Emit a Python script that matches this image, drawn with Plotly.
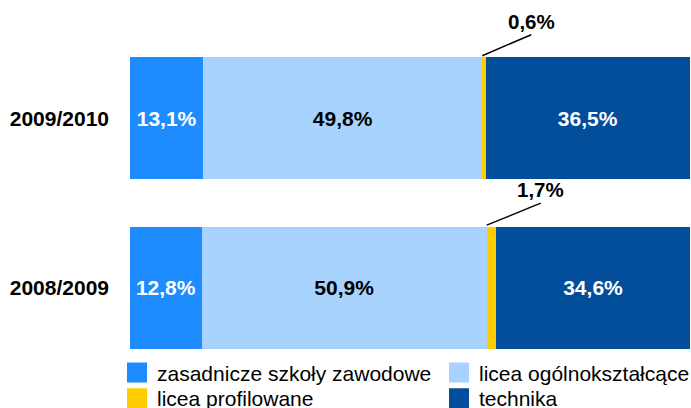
import plotly.graph_objects as go

years = ["2008/2009", "2009/2010"]
series_names = ["zasadnicze szkoły zawodowe", "licea ogólnokształcące",
                "licea profilowane", "technika"]
zasadnicze = [12.8, 13.1]
ogolnoksztalcace = [50.9, 49.8]
profilowane = [1.7, 0.6]
technika = [34.6, 36.5]

colors = ["#1E8CFF", "#A8D3FF", "#FFCC00", "#034E9B"]
text_colors = ["white", "black", "black", "white"]
values = [zasadnicze, ogolnoksztalcace, profilowane, technika]
legend_ids = ["legend", "legend2", "legend3", "legend4"]

FONT = "Liberation Sans, Arial, sans-serif"

fig = go.Figure()
for name, vals, col, tcol in zip(series_names, values, colors, text_colors):
    show_text = name != "licea profilowane"
    fig.add_trace(go.Bar(
        y=years, x=vals, name=name, orientation="h",
        marker=dict(color=col, line=dict(width=0)),
        texttemplate="%{x:.1f}%" if show_text else None,
        textposition="inside" if show_text else "none",
        insidetextanchor="middle",
        constraintext="none",
        insidetextfont=dict(family=FONT, size=21, color=tcol, weight="bold"),
        hoverinfo="skip",
        showlegend=False,
    ))

# legend entries (square swatches like the original)
for name, col, lid in zip(series_names, colors, legend_ids):
    fig.add_trace(go.Scatter(
        x=[None], y=[None], mode="markers", name=name,
        marker=dict(symbol="square", size=16, color=col,
                    line=dict(width=4, color=col)),
        legend=lid, hoverinfo="skip",
    ))

# callout labels for the thin yellow segments
half_bar = 0.36
offsets = [(54, -22), (49, -21)]
for i, yr in enumerate(years):
    start = zasadnicze[i] + ogolnoksztalcace[i]
    ax_off, ay_off = offsets[i]
    fig.add_annotation(
        x=start, y=i + half_bar + 0.01, xref="x", yref="y",
        text=f"{profilowane[i]:.1f}%".replace(".", ","),
        showarrow=True, arrowhead=0, arrowwidth=1.5, arrowcolor="black",
        ax=ax_off, ay=ay_off, xanchor="center", yanchor="bottom",
        font=dict(family=FONT, size=20.5, color="black", weight="bold"),
    )

legend_common = dict(
    orientation="h", xref="container", yref="container",
    xanchor="left", yanchor="middle",
    font=dict(family=FONT, size=21, color="black"),
    bgcolor="rgba(0,0,0,0)", borderwidth=0,
)
W, H = 691, 408
col_x = [117, 439]
row_y = [372.8, 398.5]

fig.update_layout(
    width=W, height=H,
    margin=dict(l=130, r=1, t=54, b=53),
    barmode="stack", bargap=0.28,
    separators=", ",
    plot_bgcolor="white", paper_bgcolor="white",
    font=dict(family=FONT, color="black"),
    xaxis=dict(range=[0, 100], visible=False, fixedrange=True),
    yaxis=dict(range=[-half_bar - 0.02, 1 + half_bar + 0.02], type="category",
               categoryorder="array", categoryarray=years,
               showgrid=False, showline=False, ticks="", zeroline=False,
               ticklabelstandoff=20, automargin=False, fixedrange=True,
               tickfont=dict(family=FONT, size=21, color="black", weight="bold")),
    legend=dict(x=col_x[0] / W, y=(H - row_y[0]) / H, **legend_common),
    legend2=dict(x=col_x[1] / W, y=(H - row_y[0]) / H, **legend_common),
    legend3=dict(x=col_x[0] / W, y=(H - row_y[1]) / H, **legend_common),
    legend4=dict(x=col_x[1] / W, y=(H - row_y[1]) / H, **legend_common),
    showlegend=True,
)

fig.write_html("out.html",
               config={"displayModeBar": False},
               post_script="document.body.style.margin='0px';"
                           "document.body.style.overflow='hidden';")
